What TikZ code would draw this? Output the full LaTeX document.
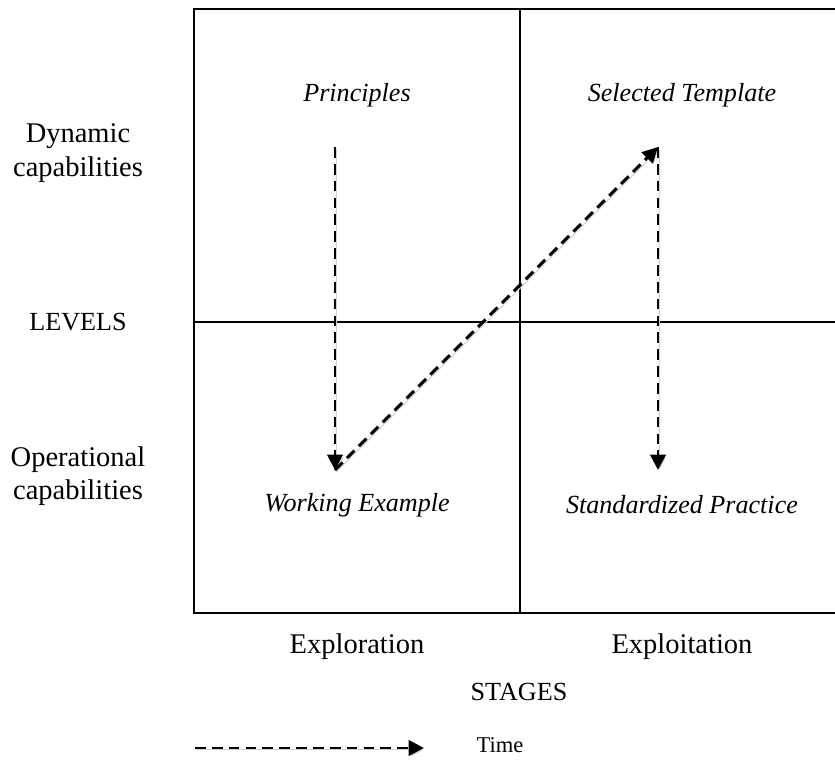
\documentclass[tikz,border=0pt]{standalone}
\usepackage{fontspec}
\setmainfont{Liberation Serif}
\usetikzlibrary{arrows.meta}

\begin{document}
\begin{tikzpicture}[x=0.0148cm, y=-0.0148cm,
  frameline/.style={line width=1pt},
  timearrow/.style={line width=1.2pt, dash pattern=on 4.5pt off 2.6pt, -{Triangle[length=6.5pt, width=6.5pt]},
    preaction={draw=gray!35, transform canvas={xshift=0.6pt, yshift=-0.8pt}}},
  celltext/.style={font=\fontsize{11}{13}\selectfont\itshape},
  sidetext/.style={font=\fontsize{12}{14}\selectfont, align=center},
  capstext/.style={font=\fontsize{11}{13}\selectfont},]
\useasboundingbox (0,0) rectangle (835,762);
% frame
\draw[frameline] (194,9) rectangle (844,613);
\draw[frameline] (520,9) -- (520,613);
\draw[frameline] (194,322) -- (844,322);
% nodes
\node[celltext] (principles) at (357,95) {Principles};
\node[celltext] (template) at (682,95) {Selected Template};
\node[celltext] (working) at (357,505) {Working Example};
\node[celltext] (practice) at (682,505) {Standardized Practice};
\node[sidetext] (dynamic) at (78,153) {Dynamic\\capabilities};
\node[capstext] (levels) at (78,322) {LEVELS};
\node[sidetext] (operational) at (78,476) {Operational\\capabilities};
\node[sidetext] (exploration) at (357,647) {Exploration};
\node[sidetext] (exploitation) at (682,647) {Exploitation};
\node[capstext] (stages) at (519,692) {STAGES};
\node[font=\fontsize{9.5}{11}\selectfont] (time) at (500,745) {Time};
\coordinate (princ_end) at (335,147);
\coordinate (work_end) at (335,470);
\coordinate (templ_end) at (658,147);
\coordinate (prac_end) at (658,470);
\coordinate (time_start) at (195,748);
\coordinate (time_end) at (424,748);
% edges
\draw[timearrow] (princ_end) -- (work_end);
\draw[timearrow] (work_end) -- (templ_end);
\draw[timearrow] (templ_end) -- (prac_end);
\draw[timearrow] (time_start) -- (time_end);
\end{tikzpicture}
\end{document}
